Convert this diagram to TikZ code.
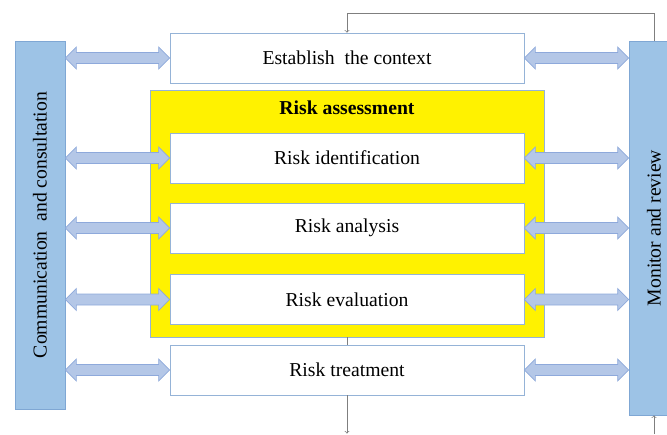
\documentclass[tikz,border=0pt]{standalone}
\usepackage{fontspec}
\setmainfont{Liberation Serif}
\usetikzlibrary{calc}
\definecolor{barblue}{HTML}{9DC3E6}
\definecolor{barline}{HTML}{7FA7D4}
\definecolor{arrowfill}{HTML}{B4C7E7}
\definecolor{arrowline}{HTML}{8EA9DB}
\definecolor{boxline}{HTML}{95B3D7}
\definecolor{flowgray}{HTML}{7F7F7F}
\tikzstyle{stage} = [draw=boxline, fill=white, rectangle, line width=0.6pt, minimum width=10.62cm, minimum height=1.5cm, font=\fontsize{16.8}{20}\selectfont]
\tikzstyle{sidebar} = [draw=barline, fill=barblue, rectangle, line width=0.6pt, minimum width=1.5cm]
\tikzstyle{sidetext} = [rotate=90, font=\fontsize{16.8}{20}\selectfont]
\tikzstyle{dblarrow} = [draw=arrowline, fill=arrowfill, line width=0.6pt]
\tikzstyle{flow} = [draw=flowgray, line width=0.6pt]
\newcommand{\fatarrow}[2]{%
  \draw[dblarrow] let \p1=(#1), \p2=(#2) in
    (\x1,\y1) -- (\x1+0.33cm,\y1+0.33cm) -- (\x1+0.33cm,\y1+0.165cm)
    -- (\x2-0.33cm,\y1+0.165cm) -- (\x2-0.33cm,\y1+0.33cm) -- (\x2,\y1)
    -- (\x2-0.33cm,\y1-0.33cm) -- (\x2-0.33cm,\y1-0.165cm)
    -- (\x1+0.33cm,\y1-0.165cm) -- (\x1+0.33cm,\y1-0.33cm) -- cycle;}

\begin{document}
\begin{tikzpicture}[x=0.03cm, y=-0.03cm]
            \useasboundingbox (0,0) rectangle (667,434);
            \clip (0,0) rectangle (667,434);
            % Defining nodes
            \node[sidebar, minimum height=11.04cm] (comm) at (40,225) {};
            \node[sidetext] (commtext) at (comm) {Communication~ and consultation};
            \node[sidebar, minimum height=11.22cm] (mon) at (654,228) {};
            \node[sidetext] (montext) at (mon) {Monitor and review};
            \node[draw=boxline, fill=yellow, line width=0.6pt, minimum width=11.82cm, minimum height=7.41cm] (assess) at (347,213.5) {};
            \node[font=\fontsize{16.8}{20}\selectfont\bfseries] (assesstext) at (347,108) {Risk assessment};
            \node[stage] (est) at (347,58) {Establish~ the context};
            \node[stage] (ident) at (347,158) {Risk identification};
            \node[stage] (anal) at (347,228) {Risk analysis};
            \node[stage] (eval) at (347,299.5) {Risk evaluation};
            \node[stage] (treat) at (347,370) {Risk treatment};
            \coordinate (topleft) at (347,13);
            \coordinate (outlet) at (347,433.5);
            \coordinate (inlet) at (654,434);

            % Drawing diagram
            \foreach \b in {est, ident, anal, eval, treat} {
                \fatarrow{comm.east |- \b.west}{\b.west}
                \fatarrow{\b.east}{mon.west |- \b.east}
            }
            \draw[flow, ->] (mon.north) |- (topleft) -- (est.north);
            \draw[flow] (assess.south) -- (treat.north);
            \draw[flow, ->] (treat.south) -- (outlet);
            \draw[flow, ->] (inlet) -- (mon.south);
        \end{tikzpicture}
\end{document}
